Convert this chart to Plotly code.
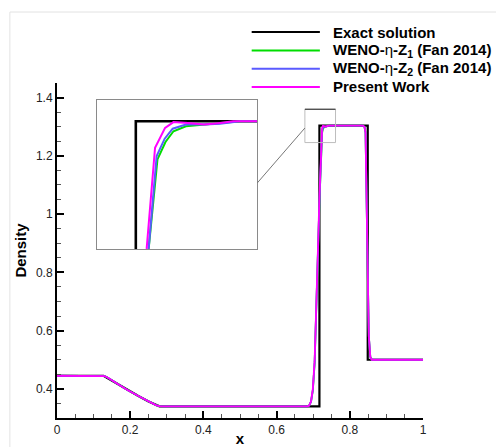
import plotly.graph_objects as go

# ---------------- data ----------------
exact_x = [0.0, 0.127, 0.16, 0.19, 0.22, 0.25, 0.28, 0.717, 0.717, 0.849, 0.849, 1.0]
exact_rho = [0.445, 0.445, 0.421, 0.398, 0.377, 0.357, 0.34, 0.34, 1.304, 1.304, 0.5, 0.5]

present_x = [0.0, 0.122, 0.13, 0.137, 0.16, 0.19, 0.22, 0.25, 0.27, 0.28, 0.29, 0.684, 0.689,
             0.694, 0.699, 0.704, 0.709, 0.713, 0.717, 0.7197, 0.7218, 0.7243, 0.7264, 0.730,
             0.7341, 0.738, 0.7413, 0.835, 0.840, 0.843, 0.846, 0.849, 0.852, 0.856, 0.860, 1.0]
present_rho = [0.445, 0.445, 0.4435, 0.440, 0.421, 0.398, 0.377, 0.357, 0.3445, 0.341, 0.34, 0.34, 0.343,
               0.357, 0.40, 0.50, 0.68, 0.88, 1.06, 1.15, 1.272, 1.296, 1.303, 1.302,
               1.300, 1.302, 1.304, 1.304, 1.300, 1.28, 1.10, 0.80, 0.58, 0.51, 0.50, 0.5]

z2_x = [0.0, 0.122, 0.13, 0.137, 0.16, 0.19, 0.22, 0.25, 0.27, 0.28, 0.29, 0.684, 0.689,
        0.694, 0.699, 0.704, 0.709, 0.713, 0.717, 0.7202, 0.7222, 0.7242, 0.7262, 0.7295,
        0.7341, 0.738, 0.743, 0.835, 0.840, 0.843, 0.846, 0.849, 0.852, 0.856, 0.860, 1.0]
z2_rho = [0.445, 0.445, 0.4435, 0.440, 0.421, 0.398, 0.377, 0.357, 0.3445, 0.341, 0.34, 0.34, 0.343,
          0.356, 0.395, 0.49, 0.67, 0.87, 1.04, 1.15, 1.262, 1.283, 1.295, 1.300,
          1.300, 1.301, 1.304, 1.304, 1.300, 1.28, 1.10, 0.80, 0.58, 0.51, 0.50, 0.5]

z1_x = [0.0, 0.122, 0.13, 0.137, 0.16, 0.19, 0.22, 0.25, 0.27, 0.28, 0.29, 0.684, 0.689,
        0.694, 0.699, 0.704, 0.709, 0.713, 0.717, 0.7202, 0.7224, 0.7244, 0.7264, 0.7295,
        0.7341, 0.738, 0.743, 0.835, 0.840, 0.843, 0.846, 0.849, 0.852, 0.856, 0.860, 1.0]
z1_rho = [0.445, 0.445, 0.4435, 0.440, 0.421, 0.398, 0.377, 0.357, 0.3445, 0.341, 0.34, 0.34, 0.343,
          0.356, 0.395, 0.49, 0.67, 0.87, 1.04, 1.15, 1.258, 1.279, 1.292, 1.298,
          1.300, 1.301, 1.304, 1.304, 1.300, 1.28, 1.10, 0.80, 0.58, 0.51, 0.50, 0.5]

series_names = ["Exact solution",
                "<b>WENO-</b>η<b>-Z<sub>1</sub> (Fan 2014)</b>",
                "<b>WENO-</b>η<b>-Z<sub>2</sub> (Fan 2014)</b>",
                "Present Work"]
series_colors = ["#000000", "#00dd00", "#5a5aff", "#ff00ff"]

x_range = [0, 1]
y_range = [0.3, 1.45]
x_ticks = [0, 0.2, 0.4, 0.6, 0.8, 1]
x_ticktext = ["0", "0.2", "0.4", "0.6", "0.8", "1"]
y_ticks = [0.4, 0.6, 0.8, 1.0, 1.2, 1.4]
y_ticktext = ["0.4", "0.6", "0.8", "1", "1.2", "1.4"]

inset_x_range = [0.7073, 0.7473]
inset_y_range = [1.15, 1.33]
zoom_box_x = [0.6773, 0.761]
zoom_box_y = [1.2455, 1.36]

# ---------------- layout geometry (pixels) ----------------
W, H = 496, 447
PL, PR, PT, PB = 56.7, 423.3, 83.3, 418.4


def px_x(p):
    return (p - PL) / (PR - PL)


def px_y(p):
    return (PB - p) / (PB - PT)


FONT = "Arial, Liberation Sans, sans-serif"

fig = go.Figure()

xs = [exact_x, z1_x, z2_x, present_x]
ys = [exact_rho, z1_rho, z2_rho, present_rho]
widths_main = [2.2, 1.8, 1.8, 1.8]
widths_inset = [2.6, 2.0, 2.0, 2.0]

for xa, ya, c, w in zip(xs, ys, series_colors, widths_main):
    fig.add_trace(go.Scatter(x=xa, y=ya, mode="lines", line=dict(color=c, width=w),
                             showlegend=False, xaxis="x", yaxis="y"))
for xa, ya, c, w in zip(xs, ys, series_colors, widths_inset):
    fig.add_trace(go.Scatter(x=xa, y=ya, mode="lines", line=dict(color=c, width=w),
                             showlegend=False, xaxis="x2", yaxis="y2"))

axis_common = dict(showgrid=False, zeroline=False, showline=True, linecolor="black",
                   linewidth=2, ticks="inside", ticklen=7, tickwidth=1.5, tickcolor="black",
                   tickfont=dict(family=FONT, size=12, color="#222"), automargin=False)

fig.update_layout(
    width=W, height=H,
    margin=dict(l=PL, r=W - PR, t=PT, b=H - PB, pad=0),
    paper_bgcolor="white", plot_bgcolor="white",
    showlegend=False,
    xaxis=dict(domain=[0, 1], range=x_range, tickvals=x_ticks, ticktext=x_ticktext,
               minor=dict(dtick=0.05, ticks="inside", ticklen=4, tickcolor="#555", tickwidth=1),
               title=dict(text="<b>x</b>", font=dict(family=FONT, size=15, color="black"), standoff=2),
               **axis_common),
    yaxis=dict(domain=[0, 1], range=y_range, tickvals=y_ticks, ticktext=y_ticktext,
               minor=dict(dtick=0.05, ticks="inside", ticklen=4, tickcolor="#555", tickwidth=1),
               title=dict(text="<b>Density</b>", font=dict(family=FONT, size=15, color="black"), standoff=6),
               **axis_common),
    xaxis2=dict(domain=[px_x(96.7), px_x(257.3)], range=inset_x_range, anchor="y2",
                showgrid=False, zeroline=False, showline=True, mirror=True, linecolor="#8a8a8a",
                linewidth=1, showticklabels=False, ticks=""),
    yaxis2=dict(domain=[px_y(249.3), px_y(100)], range=inset_y_range, anchor="x2",
                showgrid=False, zeroline=False, showline=True, mirror=True, linecolor="#8a8a8a",
                linewidth=1, showticklabels=False, ticks=""),
)

shapes = []
# zoom box on main plot
shapes.append(dict(type="rect", xref="x", yref="y", x0=zoom_box_x[0], x1=zoom_box_x[1],
                   y0=zoom_box_y[0], y1=zoom_box_y[1], line=dict(color="#bdbdbd", width=1)))
shapes.append(dict(type="line", xref="x", yref="y", x0=zoom_box_x[0], x1=zoom_box_x[1],
                   y0=zoom_box_y[1], y1=zoom_box_y[1], line=dict(color="#222", width=1)))
# connector from inset to zoom box
shapes.append(dict(type="line", xref="paper", yref="paper", x0=px_x(257.3), y0=px_y(183.3),
                   x1=px_x(305), y1=px_y(128.3), line=dict(color="#777", width=1)))
# outer light frame
shapes.append(dict(type="line", xref="paper", yref="paper", x0=px_x(9.5), y0=px_y(12.3),
                   x1=px_x(500), y1=px_y(12.3), line=dict(color="#e3e3e3", width=1)))
shapes.append(dict(type="line", xref="paper", yref="paper", x0=px_x(9.5), y0=px_y(12.3),
                   x1=px_x(9.5), y1=px_y(450), line=dict(color="#e3e3e3", width=1)))

# manual legend
legend_rows = [32.3, 50.7, 69.0, 87.3]
annotations = []
for name, c, ry in zip(series_names, series_colors, legend_rows):
    shapes.append(dict(type="line", xref="paper", yref="paper", x0=px_x(251.7), x1=px_x(320),
                       y0=px_y(ry), y1=px_y(ry), line=dict(color=c, width=2)))
    txt = name if name.startswith("<b>") else "<b>" + name + "</b>"
    annotations.append(dict(xref="paper", yref="paper", x=px_x(331), y=px_y(ry), text=txt,
                            showarrow=False, xanchor="left", yanchor="middle",
                            font=dict(family=FONT, size=15, color="black")))

fig.update_layout(shapes=shapes, annotations=annotations)

fig.write_html("out.html")
